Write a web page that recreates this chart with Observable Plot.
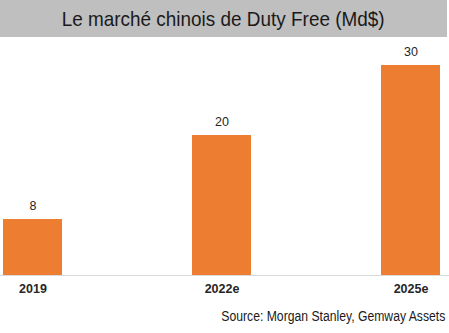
<!DOCTYPE html>
<html><head><meta charset="utf-8">
<script src="https://cdn.jsdelivr.net/npm/d3@7"></script>
<script src="https://cdn.jsdelivr.net/npm/@observablehq/plot@0.6"></script>
<style>
body{margin:0;background:#fff;width:449px;height:333px;overflow:hidden;}
#title{width:447px;height:37px;background:#BFBFBF;color:#1a1a1a;font-family:"Liberation Sans",Arial,sans-serif;font-size:21px;line-height:37px;text-align:center;white-space:nowrap;}
#title span{display:inline-block;transform-origin:50% 50%;}
#caption{width:445px;height:20px;position:relative;font-family:"Liberation Sans",Arial,sans-serif;font-size:14px;color:#1a1a1a;margin-top:13px;white-space:nowrap;}
#caption span{position:absolute;right:0;top:0;display:inline-block;transform-origin:100% 50%;}
</style></head><body>
<div id="title"><span>Le marché chinois de Duty Free (Md$)</span></div>
<div id="chart"></div>
<div id="caption"><span>Source: Morgan Stanley, Gemway Assets</span></div>
<script>
const categories = ["2019", "2022e", "2025e"];
const values = [8, 20, 30];
const data = categories.map((c, i) => ({year: c, value: values[i]}));

const chart = Plot.plot({
  width: 449,
  height: 258,
  marginLeft: 0,
  marginRight: 0,
  marginTop: 28,
  marginBottom: 20,
  style: {fontFamily: "'Liberation Sans', Arial, sans-serif", background: "#fff"},
  x: {domain: categories, paddingInner: 0.689, paddingOuter: 0.029, align: 0.273},
  y: {domain: [0, 30], axis: null},
  marks: [
    Plot.barY(data, {x: "year", y: "value", fill: "#ED7D31"}),
    Plot.ruleY([0], {stroke: "#D9D9D9", strokeWidth: 1}),
    Plot.text(data, {x: "year", y: "value", text: d => String(d.value), dy: -14, fontSize: 12.5, fill: "#262626"}),
    Plot.axisX({tickSize: 0, tickPadding: 9, fontSize: 12.5, fontWeight: "bold", color: "#262626", label: null})
  ]
});
document.getElementById("chart").appendChild(chart);

// condense the title and caption text horizontally to match the narrow face
function condense(sel, target) {
  const el = document.querySelector(sel);
  const w = el.getBoundingClientRect().width;
  el.style.transform = `scaleX(${target / w})`;
}
condense("#title span", 323);
condense("#caption span", 224);
</script>
</body></html>
